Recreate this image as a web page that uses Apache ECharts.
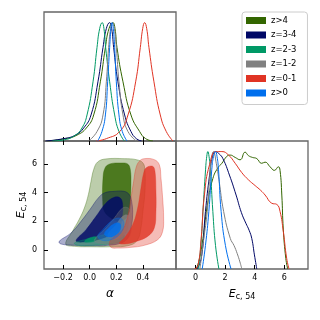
<!DOCTYPE html>
<html>
<head>
<meta charset="utf-8">
<title>corner</title>
<script src="https://cdn.jsdelivr.net/npm/echarts@6/dist/echarts.min.js"></script>
<style>
html, body { margin: 0; padding: 0; background: #fff; }
#main { width: 320px; height: 320px; }
</style>
</head>
<body>
<div id="main"></div>
<script>
// groups, in legend / draw order
var names = ['z>4', 'z=3-4', 'z=2-3', 'z=1-2', 'z=0-1', 'z>0'];
var colors = ['#336600', '#000866', '#009966', '#808080', '#E03424', '#006FED'];

var alphaTicks = [-0.2, 0, 0.2, 0.4];
var eTicks = [0, 2, 4, 6];

// 1D marginal of alpha: [alpha, density]
var alphaZ4 = [[-0.32,0],[-0.18,0.02],[-0.095,0.05],[-0.025,0.11],[0.03,0.22],[0.08,0.5],[0.118,0.79],[0.145,0.95],[0.175,1.0],[0.19,0.95],[0.205,0.79],[0.25,0.5],[0.31,0.22],[0.375,0.08],[0.42,0.02],[0.475,0]];
var alphaZ34 = [[-0.33,0],[-0.195,0.02],[-0.107,0.05],[-0.045,0.11],[0.01,0.22],[0.062,0.5],[0.10,0.79],[0.125,0.95],[0.15,1.0],[0.165,0.95],[0.18,0.79],[0.212,0.5],[0.2625,0.22],[0.31,0.08],[0.35,0.02],[0.39,0]];
var alphaZ23 = [[-0.28,0],[-0.19,0.01],[-0.107,0.05],[-0.058,0.11],[-0.02,0.22],[0.025,0.5],[0.055,0.79],[0.075,0.95],[0.094,1.0],[0.107,0.95],[0.12,0.79],[0.15,0.5],[0.1875,0.22],[0.22,0.08],[0.26,0]];
var alphaZ12 = [[-0.008,0],[0.055,0.08],[0.10,0.22],[0.125,0.5],[0.142,0.79],[0.157,0.95],[0.17,1.0],[0.185,0.95],[0.2,0.79],[0.22,0.5],[0.25,0.22],[0.2875,0.08],[0.35,0]];
var alphaZ01 = [[0.05,0],[0.125,0.02],[0.225,0.08],[0.2875,0.22],[0.345,0.5],[0.38,0.79],[0.398,0.95],[0.4125,1.0],[0.428,0.95],[0.445,0.79],[0.4825,0.5],[0.53,0.22],[0.575,0.08],[0.625,0]];
var alphaZ0 = [[0.06,0],[0.092,0.08],[0.118,0.22],[0.135,0.5],[0.15,0.79],[0.16,0.95],[0.168,1.0],[0.177,0.95],[0.1875,0.79],[0.2,0.5],[0.22,0.22],[0.245,0.08],[0.28,0]];

// 1D marginal of E_c,54: [E, density]
var eZ4 = [[0.05,0],[0.25,0.08],[0.5,0.26],[0.83,0.57],[1.17,0.77],[1.5,0.86],[1.78,0.9],[2.12,0.96],[2.34,0.97],[2.68,0.95],[3.01,0.93],[3.35,0.995],[3.57,0.966],[3.85,0.95],[4.14,0.94],[4.47,0.9],[4.7,0.91],[5.04,0.87],[5.33,0.84],[5.6,0.87],[5.71,0.84],[5.83,0.63],[5.93,0.34],[6.1,0.09],[6.23,0]];
var eZ34 = [[0.1,0],[0.4,0.1],[0.67,0.49],[0.95,0.8],[1.15,0.96],[1.35,1.0],[1.6,0.98],[1.85,0.94],[2.29,0.8],[2.74,0.63],[3.1,0.48],[3.4,0.39],[3.62,0.33],[3.8,0.26],[3.98,0.12],[4.14,0]];
var eZ23 = [[0.2,0],[0.36,0.2],[0.5,0.49],[0.68,0.85],[0.76,0.96],[0.83,1.0],[0.91,0.96],[1.0,0.85],[1.17,0.49],[1.35,0.2],[1.58,0]];
var eZ12 = [[0.3,0],[0.55,0.25],[0.79,0.49],[1.0,0.85],[1.1,0.96],[1.21,1.0],[1.4,0.9],[1.58,0.76],[1.9,0.49],[2.35,0.26],[2.6,0.2],[2.82,0.13],[3.0,0.06],[3.13,0]];
var eZ01 = [[-0.07,0],[0.16,0.03],[0.38,0.26],[0.6,0.63],[0.95,0.89],[1.4,1.0],[1.78,1.0],[2.23,0.97],[2.68,0.9],[3.13,0.82],[3.57,0.76],[4.03,0.71],[4.4,0.67],[4.7,0.63],[5.15,0.56],[5.49,0.55],[5.71,0.49],[5.93,0.32],[6.16,0.09],[6.32,0]];
var eZ0 = [[0.45,0],[0.67,0.2],[0.9,0.49],[1.1,0.85],[1.22,0.96],[1.35,1.0],[1.45,0.96],[1.55,0.85],[1.73,0.49],[2.02,0.2],[2.4,0]];

// 2D contours: [alpha, E] outlines, 95% and 68%
var c95Z4 = [[-0.18,0.42],[-0.13,1.30],[-0.08,2.12],[-0.04,2.93],[-0.01,3.86],[0.01,4.79],[0.03,5.61],[0.06,6.14],[0.12,6.35],[0.26,6.37],[0.35,6.30],[0.40,6.07],[0.415,5.49],[0.415,4.09],[0.40,2.70],[0.385,1.54],[0.36,0.72],[0.30,0.33],[0.16,0.23],[0.01,0.23],[-0.115,0.26]];
var c68Z4 = [[0.0975,3.40],[0.10,5.02],[0.115,5.72],[0.15,6.0],[0.235,6.07],[0.285,6.0],[0.305,5.61],[0.31,4.56],[0.305,3.40],[0.29,2.47],[0.235,2.0],[0.16,2.23],[0.11,2.70]];
var c95Z34 = [[-0.23,0.60],[-0.14,1.19],[-0.065,2.0],[0.01,2.93],[0.06,3.58],[0.11,3.98],[0.185,4.09],[0.26,4.09],[0.2975,3.86],[0.315,3.40],[0.3225,2.47],[0.31,1.54],[0.285,0.84],[0.235,0.49],[0.135,0.33],[0.01,0.30],[-0.115,0.33],[-0.215,0.42]];
var c68Z34 = [[-0.1025,0.65],[-0.0275,1.42],[0.0475,2.35],[0.1225,3.28],[0.185,3.68],[0.23,3.63],[0.2475,3.16],[0.2425,2.23],[0.2225,1.54],[0.16,1.07],[0.06,0.72],[-0.04,0.56]];
var c95Z23 = [[-0.115,0.49],[-0.04,0.72],[0.06,0.95],[0.16,1.19],[0.235,1.26],[0.26,0.95],[0.235,0.60],[0.135,0.42],[0.01,0.33],[-0.09,0.33]];
var c68Z23 = [[-0.04,0.60],[-0.0025,0.84],[0.0475,0.91],[0.04,0.65],[-0.01,0.54]];
var c95Z12 = [[0.035,0.72],[0.11,1.42],[0.185,2.23],[0.2475,2.93],[0.29,2.93],[0.31,2.58],[0.315,1.77],[0.2975,0.95],[0.2475,0.60],[0.16,0.47],[0.06,0.51]];
var c68Z12 = [[0.135,1.07],[0.1975,1.77],[0.2475,2.35],[0.285,2.42],[0.2925,1.88],[0.2725,1.19],[0.2225,0.84],[0.16,0.77]];
var c95Z01 = [[0.3725,6.19],[0.41,6.37],[0.485,6.30],[0.5225,5.95],[0.535,5.02],[0.5475,3.63],[0.555,2.23],[0.5475,1.30],[0.51,0.72],[0.41,0.33],[0.31,0.19],[0.21,0.14],[0.16,0.19],[0.1475,0.49],[0.1725,0.84],[0.2475,1.42],[0.285,2.35],[0.31,3.63],[0.33,4.79],[0.3475,5.72]];
var c68Z01 = [[0.4225,5.72],[0.4725,5.84],[0.49,5.49],[0.4975,4.09],[0.4975,2.70],[0.485,1.54],[0.435,0.95],[0.3475,0.60],[0.26,0.42],[0.2225,0.49],[0.26,0.84],[0.3225,1.77],[0.36,2.93],[0.385,4.33],[0.4025,5.26]];
var c95Z0 = [[0.06,0.95],[0.0975,1.42],[0.16,2.0],[0.21,2.23],[0.2475,2.12],[0.255,1.65],[0.2225,1.07],[0.16,0.72],[0.0975,0.67]];
var c68Z0 = [[0.11,1.12],[0.1475,1.58],[0.1975,1.88],[0.23,1.81],[0.23,1.42],[0.1975,1.07],[0.1475,0.91]];

var alphaCurves = [alphaZ4, alphaZ34, alphaZ23, alphaZ12, alphaZ01, alphaZ0];
var eCurves = [eZ4, eZ34, eZ23, eZ12, eZ01, eZ0];
var outer = [c95Z4, c95Z34, c95Z23, c95Z12, c95Z01, c95Z0];
var inner = [c68Z4, c68Z34, c68Z23, c68Z12, c68Z01, c68Z0];

var FONT = 'DejaVu Sans';
var alphaMin = -0.343, alphaMax = 0.648;
var eMin = -1.32, eMax = 7.6;

function lineSeries(name, data, color, xi, yi) {
    return {
        type: 'line', name: name, data: data,
        xAxisIndex: xi, yAxisIndex: yi,
        showSymbol: false, smooth: 0.5,
        lineStyle: { color: color, width: 1 },
        itemStyle: { color: color },
        silent: true
    };
}

function polySeries(name, pts, color, fillOp) {
    return {
        type: 'custom', name: name, data: pts,
        xAxisIndex: 1, yAxisIndex: 1, silent: true,
        itemStyle: { color: color },
        renderItem: function (params, api) {
            if (params.dataIndex !== 0) return null;
            var p = pts.map(function (d) { return api.coord(d); });
            return {
                type: 'polygon',
                shape: { points: p, smooth: 0.4 },
                style: { fill: color, fillOpacity: fillOp, stroke: color, strokeOpacity: 0.5, lineWidth: 0.7 }
            };
        }
    };
}

var series = [];
for (var i = 0; i < names.length; i++) {
    series.push(polySeries(names[i], outer[i], colors[i], 0.33));
    series.push(polySeries(names[i], inner[i], colors[i], 0.82));
}
for (var i = 0; i < names.length; i++) {
    series.push(lineSeries(names[i], alphaCurves[i], colors[i], 0, 0));
    series.push(lineSeries(names[i], eCurves[i], colors[i], 3, 3));
}

var tick = { show: true, inside: true, length: 4, lineStyle: { color: '#000', width: 1 } };
var noLine = { show: false, onZero: false };
var labelStyle = { color: '#000', fontFamily: FONT, fontSize: 8 };
function fmtA(v) { return Number(v).toFixed(1).replace('-', '\u2212'); }
function fmtE(v) { return String(Math.round(v)); }

var eName = '{e|E}{s|c, 54}';
var eRich = {
    e: { fontFamily: FONT, fontStyle: 'italic', fontSize: 11, lineHeight: 14, color: '#000' },
    s: { fontFamily: FONT, fontSize: 8, lineHeight: 7, verticalAlign: 'bottom', color: '#000' }
};

var grid = { show: true, borderColor: '#666', borderWidth: 1.3, backgroundColor: 'transparent' };

var myChart = echarts.init(document.getElementById('main'), null, { renderer: 'canvas' });
myChart.setOption({
    animation: false,
    grid: [
        Object.assign({ left: 44, top: 12, width: 132, height: 129 }, grid),
        Object.assign({ left: 44, top: 141, width: 132, height: 128 }, grid),
        Object.assign({ left: 176, top: 141, width: 132, height: 128 }, grid)
    ],
    xAxis: [
        { type: 'value', gridIndex: 0, min: alphaMin, max: alphaMax, position: 'bottom',
          axisLine: noLine, splitLine: { show: false },
          axisTick: Object.assign({ customValues: alphaTicks }, tick),
          axisLabel: { show: false } },
        { type: 'value', gridIndex: 1, min: alphaMin, max: alphaMax, position: 'bottom',
          axisLine: noLine, splitLine: { show: false },
          axisTick: Object.assign({ customValues: alphaTicks }, tick),
          axisLabel: Object.assign({ customValues: alphaTicks, margin: 5, formatter: fmtA }, labelStyle),
          name: '\u03b1', nameLocation: 'middle', nameGap: 19,
          nameTextStyle: { fontFamily: FONT, fontStyle: 'italic', fontSize: 12, color: '#000' } },
        { type: 'value', gridIndex: 1, min: alphaMin, max: alphaMax, position: 'top',
          axisLine: noLine, splitLine: { show: false },
          axisTick: Object.assign({ customValues: alphaTicks }, tick),
          axisLabel: { show: false } },
        { type: 'value', gridIndex: 2, min: eMin, max: eMax, position: 'bottom',
          axisLine: noLine, splitLine: { show: false },
          axisTick: Object.assign({ customValues: eTicks }, tick),
          axisLabel: Object.assign({ customValues: eTicks, margin: 5, formatter: fmtE }, labelStyle),
          name: eName, nameLocation: 'middle', nameGap: 18,
          nameTextStyle: { rich: eRich } }
    ],
    yAxis: [
        { type: 'value', gridIndex: 0, min: 0, max: 1.09, show: false },
        { type: 'value', gridIndex: 1, min: eMin, max: eMax, position: 'left',
          axisLine: noLine, splitLine: { show: false },
          axisTick: Object.assign({ customValues: eTicks }, tick),
          axisLabel: Object.assign({ customValues: eTicks, margin: 7, formatter: fmtE }, labelStyle),
          name: eName, nameLocation: 'middle', nameGap: 7,
          nameTextStyle: { rich: eRich } },
        { type: 'value', gridIndex: 1, min: eMin, max: eMax, position: 'right',
          axisLine: noLine, splitLine: { show: false },
          axisTick: Object.assign({ customValues: eTicks }, tick),
          axisLabel: { show: false } },
        { type: 'value', gridIndex: 2, min: 0, max: 1.09, show: false }
    ],
    legend: {
        orient: 'vertical', left: 242, top: 12,
        selectedMode: false,
        itemWidth: 20, itemHeight: 7, itemGap: 5.5,
        padding: [4, 11, 7, 4],
        borderColor: '#cccccc', borderWidth: 1, borderRadius: 3,
        textStyle: { fontFamily: FONT, fontSize: 8.5, color: '#000' },
        data: names.map(function (n, i) {
            return { name: n, icon: 'rect', itemStyle: { color: colors[i], borderWidth: 0 } };
        })
    },
    series: series
});
</script>
</body>
</html>
